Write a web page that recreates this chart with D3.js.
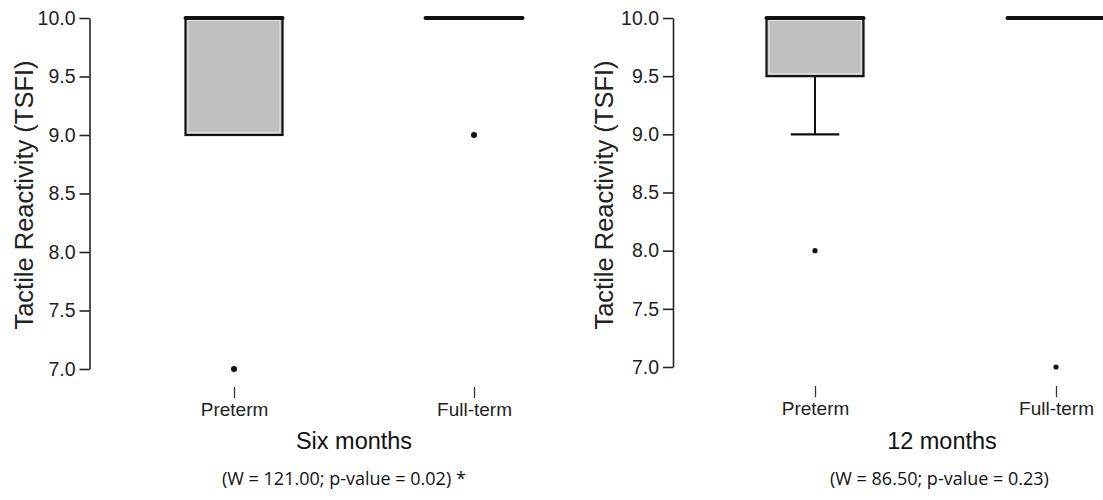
<!DOCTYPE html>
<html>
<head>
<meta charset="utf-8">
<script src="https://cdn.jsdelivr.net/npm/d3@7"></script>
<style>
  body { margin: 0; background: #fff; }
  svg { display: block; }
  .tick text, .arial { font-family: "Liberation Sans", Arial, Helvetica, sans-serif; }
  .tick text { fill: #222; }
  .calib { font-family: "Open Sans", Lato, sans-serif; }
</style>
</head>
<body>
<svg width="1103" height="500"></svg>
<script>
// --- data ---
const groups = ["Preterm", "Full-term"];
const yTicks = [7.0, 7.5, 8.0, 8.5, 9.0, 9.5, 10.0];

// Six months
const sixQ1 = [9.0, 10.0];
const sixMedian = [10.0, 10.0];
const sixQ3 = [10.0, 10.0];
const sixLow = [9.0, 10.0];
const sixHigh = [10.0, 10.0];
const sixOutliers = [[7.0], [9.0]];

// 12 months
const twelveQ1 = [9.5, 10.0];
const twelveMedian = [10.0, 10.0];
const twelveQ3 = [10.0, 10.0];
const twelveLow = [9.0, 10.0];
const twelveHigh = [10.0, 10.0];
const twelveOutliers = [[8.0], [7.0]];

const titles = ["Six months", "12 months"];
const subtitles = ["(W = 121.00; p-value = 0.02) *", "(W = 86.50; p-value = 0.23)"];
const yLabel = "Tactile Reactivity (TSFI)";

const svg = d3.select("svg");

function drawPanel(opt) {
  const g = svg.append("g");
  const x = d3.scalePoint().domain(groups).range(opt.xRange);
  const y = d3.scaleLinear().domain([7, 10]).range(opt.yRange);
  const half = 48.5;

  // y axis
  const ya = g.append("g")
    .attr("transform", "translate(" + opt.axisX + ",0)")
    .call(d3.axisLeft(y).tickValues(yTicks).tickFormat(d3.format(".1f"))
      .tickSize(10).tickSizeOuter(0).tickPadding(4));
  ya.selectAll("path, line").attr("stroke", "#222").attr("stroke-width", 1.6);
  ya.selectAll("text").attr("font-size", 19.5);

  // x axis: ticks only
  const xa = g.append("g")
    .attr("transform", "translate(0," + opt.xTickY + ")")
    .call(d3.axisBottom(x).tickSize(11).tickPadding(5));
  xa.select(".domain").remove();
  xa.selectAll("line").attr("stroke", "#333").attr("stroke-width", 1.3);
  xa.selectAll("text").attr("font-size", 19);

  const rows = groups.map((k, i) => ({
    k, q1: opt.q1[i], med: opt.med[i], q3: opt.q3[i], lo: opt.lo[i], hi: opt.hi[i], out: opt.out[i]
  }));

  rows.forEach(d => {
    const cx = x(d.k);
    // whiskers
    if (d.lo < d.q1) {
      g.append("line").attr("x1", cx).attr("x2", cx).attr("y1", y(d.q1)).attr("y2", y(d.lo))
        .attr("stroke", "#111").attr("stroke-width", 2);
      g.append("line").attr("x1", cx - half / 2).attr("x2", cx + half / 2).attr("y1", y(d.lo)).attr("y2", y(d.lo))
        .attr("stroke", "#111").attr("stroke-width", 2.2);
    }
    if (d.hi > d.q3) {
      g.append("line").attr("x1", cx).attr("x2", cx).attr("y1", y(d.q3)).attr("y2", y(d.hi))
        .attr("stroke", "#111").attr("stroke-width", 2);
    }
    // box
    if (d.q3 > d.q1) {
      g.append("rect").attr("x", cx - half).attr("y", y(d.q3)).attr("width", half * 2)
        .attr("height", y(d.q1) - y(d.q3)).attr("fill", "#c0c0c0")
        .attr("stroke", "#111").attr("stroke-width", 2.2);
      g.append("rect").attr("x", cx - half + 2.5).attr("y", y(d.q3) + 2.5).attr("width", half * 2 - 5)
        .attr("height", y(d.q1) - y(d.q3) - 5).attr("fill", "none")
        .attr("stroke", "#e4e4e4").attr("stroke-width", 1);
    }
    // median
    g.append("line").attr("x1", cx - half).attr("x2", cx + half).attr("y1", y(d.med)).attr("y2", y(d.med))
      .attr("stroke", "#111").attr("stroke-width", 4).attr("stroke-linecap", "round");
    // outliers
    g.selectAll(null).data(d.out).enter().append("circle")
      .attr("cx", cx).attr("cy", v => y(v)).attr("r", opt.dotR).attr("fill", "#111");
  });

  // y label
  g.append("text").attr("class", "arial")
    .attr("transform", "translate(" + opt.labelX + ",195) rotate(-90)")
    .attr("text-anchor", "middle")
    .attr("font-size", 25.5).attr("fill", "#222")
    .text(yLabel);

  // title and test result
  g.append("text").attr("class", "arial").attr("x", opt.titleX).attr("y", 449)
    .attr("text-anchor", "middle")
    .attr("font-size", 23.5).attr("fill", "#111")
    .text(opt.title);
  g.append("text").attr("class", "calib").attr("x", opt.subX).attr("y", 485)
    .attr("font-size", 18).attr("fill", "#111")
    .text(opt.sub);
}

drawPanel({
  xRange: [234, 474], yRange: [369, 18], axisX: 89.5, xTickY: 387, labelX: 33,
  q1: sixQ1, med: sixMedian, q3: sixQ3, lo: sixLow, hi: sixHigh, out: sixOutliers,
  dotR: 3, title: titles[0], titleX: 354, sub: subtitles[0], subX: 222
});
drawPanel({
  xRange: [815, 1056], yRange: [367, 18], axisX: 673, xTickY: 386, labelX: 613,
  q1: twelveQ1, med: twelveMedian, q3: twelveQ3, lo: twelveLow, hi: twelveHigh, out: twelveOutliers,
  dotR: 2.6, title: titles[1], titleX: 942, sub: subtitles[1], subX: 830
});
</script>
</body>
</html>
